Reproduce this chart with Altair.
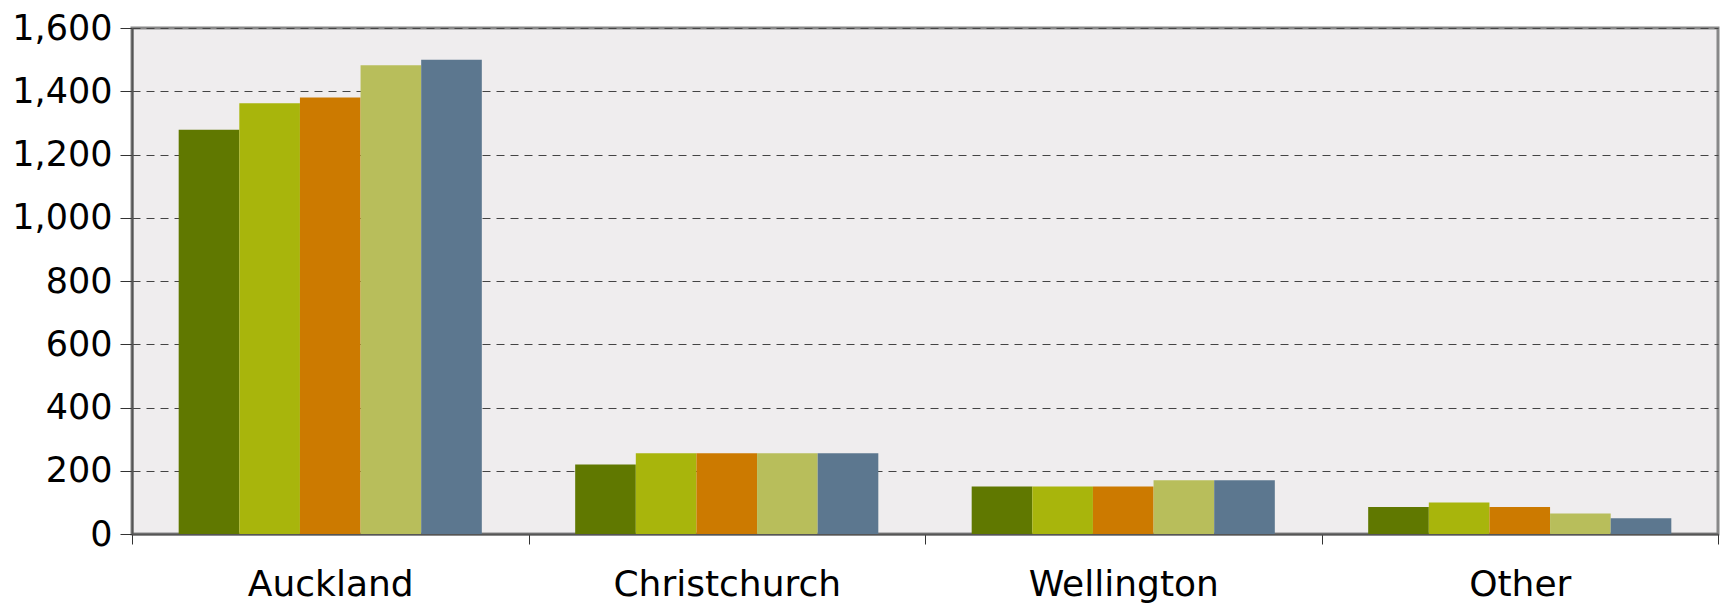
import altair as alt
import pandas as pd

regions = ["Auckland", "Christchurch", "Wellington", "Other"]
series = ["Series 1", "Series 2", "Series 3", "Series 4", "Series 5"]
auckland = [1278, 1362, 1380, 1482, 1500]
christchurch = [220, 255, 255, 255, 255]
wellington = [150, 150, 150, 170, 170]
other = [85, 100, 85, 65, 50]
colors = ["#607800", "#A8B50C", "#CC7A00", "#B8BE5B", "#5C778F"]
y_ticks = [0, 200, 400, 600, 800, 1000, 1200, 1400, 1600]

rows = []
for reg, vals in zip(regions, [auckland, christchurch, wellington, other]):
    for s, v in zip(series, vals):
        rows.append({"region": reg, "series": s, "value": v})
df = pd.DataFrame(rows)

FONT = "DejaVu Sans"

chart = alt.Chart(df).mark_bar().encode(
    x=alt.X(
        "region:N",
        sort=regions,
        title=None,
        scale=alt.Scale(paddingInner=0, paddingOuter=0),
        axis=alt.Axis(
            tickBand="extent",
            labelAngle=0,
            labelFont=FONT,
            labelFontSize=36,
            labelColor="black",
            labelBaseline="alphabetic",
            labelPadding=51,
            labelLimit=0,
            tickSize=10,
            tickColor="#333333",
            tickWidth=1,
            domainColor="#555555",
            domainWidth=2,
            grid=False,
        ),
    ),
    xOffset=alt.XOffset(
        "series:N",
        sort=series,
        scale=alt.Scale(paddingInner=0, paddingOuter=0.77),
    ),
    y=alt.Y(
        "value:Q",
        title=None,
        scale=alt.Scale(domain=[0, 1600], nice=False),
        axis=alt.Axis(
            values=y_ticks,
            format=",d",
            labelFont=FONT,
            labelFontSize=35,
            labelColor="black",
            labelPadding=8,
            labelLimit=0,
            tickSize=12,
            tickColor="#333333",
            domainColor="#555555",
            domainWidth=2,
            grid=True,
            gridColor="#444444",
            gridDash=[8, 6],
            gridWidth=1,
        ),
    ),
    color=alt.Color(
        "series:N",
        sort=series,
        scale=alt.Scale(domain=series, range=colors),
        legend=None,
    ),
).properties(
    width=1586,
    height=506,
    background="white",
    autosize=alt.AutoSizeParams(type="none"),
    padding={"left": 124, "top": 20, "right": 3, "bottom": 70},
).configure_view(
    fill="#EFEDEE",
    stroke="#888888",
    strokeWidth=3,
)

chart.save("out.html", embed_options={"renderer": "svg", "actions": False})
